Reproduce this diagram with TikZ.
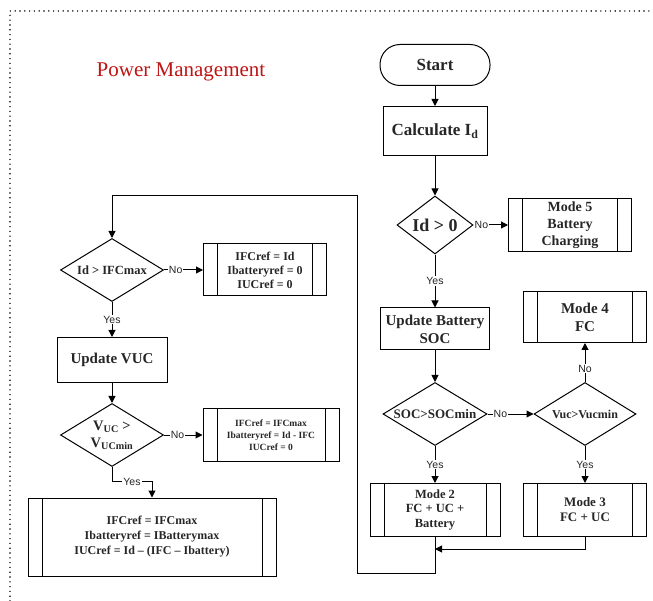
\documentclass[tikz,border=0pt]{standalone}
\usepackage{fontspec}
\setmainfont{Liberation Serif}
\newfontfamily\lblfont{Liberation Sans}
\usepackage{tikz}
\usetikzlibrary{arrows.meta,shapes.geometric}
\definecolor{titlered}{RGB}{192,20,20}

\tikzset{
    terminal/.style={draw, rounded corners=20pt, minimum width=110pt, minimum height=41pt, font=\bfseries\fontsize{17}{19}\selectfont},
    process/.style={draw, align=center, inner sep=2pt},
    decision/.style={draw, diamond, aspect=1.63, align=center, inner sep=0pt},
    subproc/.style={draw, align=center, inner sep=2pt,
        path picture={
            \draw ([xshift=14pt]path picture bounding box.north west) -- ([xshift=14pt]path picture bounding box.south west);
            \draw ([xshift=-14pt]path picture bounding box.north east) -- ([xshift=-14pt]path picture bounding box.south east);
        }},
    lbl/.style={font=\lblfont\fontsize{10.5}{12}\selectfont, fill=white, inner sep=1pt},
    flow/.style={-{Triangle[length=7pt,width=7pt]}}
}

\begin{document}
\begin{tikzpicture}[x=1pt, y=1pt, node distance=66pt, line width=1pt, text=black!85]
    \useasboundingbox (0,0) rectangle (653,-601);
    \draw[line width=1.6pt, line cap=round, dash pattern=on 0pt off 4.8pt] (10,-601) -- (10,-11) -- (653,-11);

    \node (title) [text=titlered, font=\fontsize{21}{24}\selectfont] at (181,-72) {Power Management};

    % right column
    \node (start) [terminal] at (435,-65) {Start};
    \node (calc) [process, below of=start, minimum width=104pt, minimum height=49pt, font=\bfseries\fontsize{17}{19}\selectfont] {Calculate I\textsubscript{d}};
    \node (idpos) [decision, aspect=1.3, below of=calc, yshift=-28pt, minimum width=76pt, minimum height=58pt, font=\bfseries\fontsize{18}{20}\selectfont] {Id > 0};
    \node (mode5) [subproc, right of=idpos, xshift=69pt, minimum width=123pt, minimum height=53pt, font=\bfseries\fontsize{14}{17}\selectfont] {Mode 5\\Battery\\Charging};
    \node (upsoc) [process, below of=idpos, yshift=-38pt, minimum width=109pt, minimum height=42pt, font=\bfseries\fontsize{15}{18}\selectfont] {Update Battery\\SOC};
    \node (socdec) [decision, below of=upsoc, yshift=-19pt, minimum width=104pt, minimum height=63pt, font=\bfseries\fontsize{13}{15}\selectfont] {SOC>SOCmin};
    \node (vucdec) [decision, right of=socdec, xshift=84pt, minimum width=102pt, minimum height=63pt, font=\bfseries\fontsize{12}{14}\selectfont] {Vuc>Vucmin};
    \node (mode4) [subproc, above of=vucdec, yshift=31pt, minimum width=123pt, minimum height=51pt, font=\bfseries\fontsize{15}{18}\selectfont] {Mode 4\\FC};
    \node (mode2) [subproc, below of=socdec, yshift=-30pt, minimum width=130pt, minimum height=53pt, font=\bfseries\fontsize{12.5}{14.5}\selectfont] {Mode 2\\FC + UC +\\Battery};
    \node (mode3) [subproc, below of=vucdec, yshift=-30pt, minimum width=123pt, minimum height=53pt, font=\bfseries\fontsize{13}{15}\selectfont] {Mode 3\\FC + UC};

    % left column
    \node (ifcdec) [decision, minimum width=103pt, minimum height=63pt, font=\bfseries\fontsize{12.5}{14}\selectfont] at (112,-270) {Id > IFCmax};
    \node (ref1) [subproc, right of=ifcdec, xshift=87pt, minimum width=123pt, minimum height=52pt, font=\bfseries\fontsize{12}{14}\selectfont] {IFCref = Id\\Ibatteryref = 0\\IUCref = 0};
    \node (upvuc) [process, below of=ifcdec, yshift=-24pt, minimum width=110pt, minimum height=45pt, font=\bfseries\fontsize{15}{18}\selectfont] {Update VUC};
    \node (vucmin) [decision, below of=upvuc, yshift=-9pt, minimum width=103pt, minimum height=63pt, font=\bfseries\fontsize{14.5}{17}\selectfont] {V\textsubscript{UC} >\\V\textsubscript{UCmin}};
    \node (ref2) [subproc, right of=vucmin, xshift=93pt, minimum width=136pt, minimum height=53pt, font=\bfseries\fontsize{9.5}{12}\selectfont] {IFCref = IFCmax\\Ibatteryref = Id - IFC\\IUCref = 0};
    \node (ref3) [subproc, below of=vucmin, yshift=-36pt, xshift=40pt, minimum width=248pt, minimum height=78pt, font=\bfseries\fontsize{12}{15}\selectfont] {IFCref = IFCmax\\Ibatteryref = IBatterymax\\IUCref = Id -- (IFC -- Ibattery)};

    \coordinate (join) at ([yshift=-12pt]mode2.south);
    \coordinate (loopb) at ([yshift=-36pt]mode2.south);
    \coordinate (loopt) at (357,-196);

    \draw[flow] (start) -- (calc);
    \draw[flow] (calc) -- (idpos);
    \draw[flow] (idpos) -- node[lbl, pos=0.23] {No} (mode5);
    \draw[flow] (idpos) -- node[lbl] {Yes} (upsoc);
    \draw[flow] (upsoc) -- (socdec);
    \draw[flow] (socdec) -- node[lbl, pos=0.28] {No} (vucdec);
    \draw[flow] (vucdec) -- node[lbl, pos=0.34] {No} (mode4);
    \draw[flow] (socdec) -- node[lbl] {Yes} (mode2);
    \draw[flow] (vucdec) -- node[lbl] {Yes} (mode3);
    \draw[flow] (mode3.south) |- (join);
    \draw[flow] (mode2.south) -- (loopb) -| (loopt) -| (ifcdec.north);

    \draw[flow] (ifcdec) -- node[lbl, pos=0.3] {No} (ref1);
    \draw[flow] (ifcdec) -- node[lbl] {Yes} (upvuc);
    \draw[flow] (upvuc) -- (vucmin);
    \draw[flow] (vucmin) -- node[lbl, pos=0.35] {No} (ref2);
    \draw[flow] (vucmin.south) |- node[lbl, pos=0.75] {Yes} ([yshift=16pt]ref3.north) -- (ref3.north);
\end{tikzpicture}
\end{document}
